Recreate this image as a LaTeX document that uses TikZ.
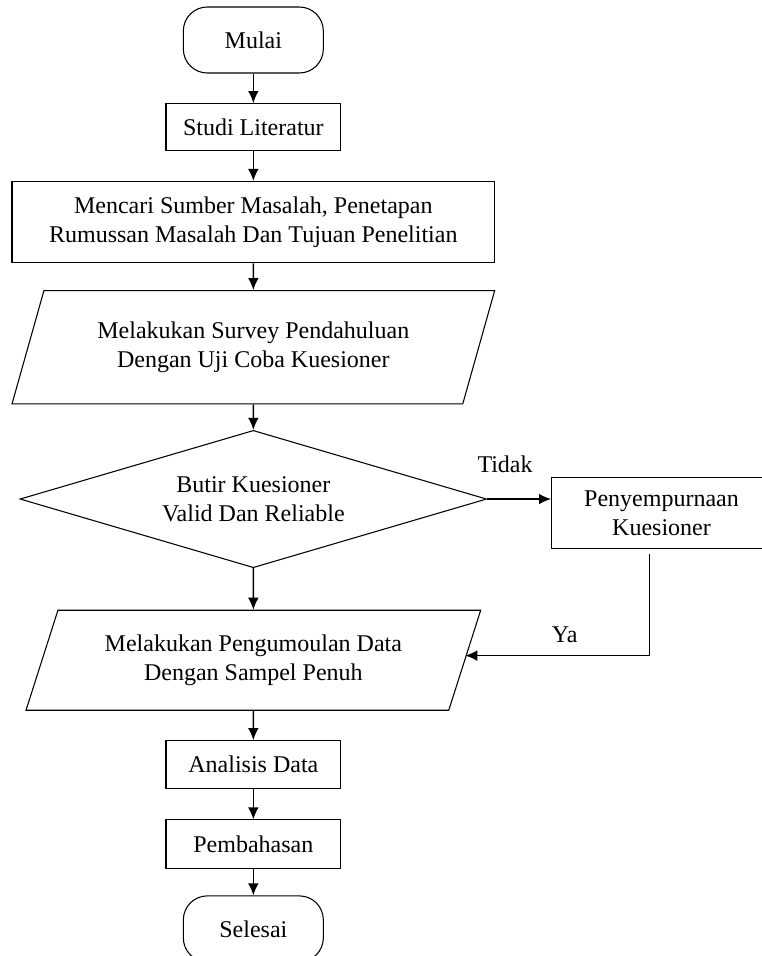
\documentclass[tikz,border=0pt]{standalone}
\usepackage{fontspec}
\setmainfont{Liberation Serif}
\usetikzlibrary{shapes.geometric,arrows.meta}
\tikzstyle{terminal} = [rectangle, draw, rounded corners=18pt,
    minimum width=105pt, minimum height=49.5pt]
\tikzstyle{process} = [rectangle, draw, align=center,
    minimum width=131pt, minimum height=35.5pt]
\tikzstyle{io} = [trapezium, draw, trapezium left angle=62, trapezium right angle=118,
    trapezium stretches body, align=center]
\tikzstyle{decision} = [diamond, draw, align=center, aspect=3.4,
    minimum width=350pt, minimum height=103pt, inner sep=0pt]
\tikzstyle{line} = [draw, line width=1pt, -{Latex[length=9pt,width=8pt]}]

\begin{document}
\begin{tikzpicture}
[node distance = 2.3cm, font=\fontsize{18}{22}\selectfont, line width=0.8pt]
\useasboundingbox (0,0) rectangle (570.75pt,-717pt);
    % Place nodes
    \node [terminal] (start) at (190pt,-30pt) {Mulai};
    \node [process, below of=start] (lit) {Studi Literatur};
    \node [process, below of=lit, yshift=-0.2cm, minimum width=362pt, minimum height=61pt] (problem)
        {Mencari Sumber Masalah, Penetapan\\Rumussan Masalah Dan Tujuan Penelitian};
    \node [io, below of=problem, yshift=-1cm, minimum width=362pt, minimum height=85pt] (survey)
        {Melakukan Survey Pendahuluan\\Dengan Uji Coba Kuesioner};
    \node [decision, below of=survey, yshift=-1.7cm] (valid) {Butir Kuesioner\\Valid Dan Reliable};
    \node [io, below of=valid, yshift=-1.95cm, minimum width=341pt, minimum height=75pt] (collect)
        {Melakukan Pengumoulan Data\\Dengan Sampel Penuh};
    \node [process, below of=collect, yshift=-0.45cm, minimum height=36pt] (analysis) {Analisis Data};
    \node [process, below of=analysis, yshift=0.2cm, minimum height=36.5pt] (discuss) {Pembahasan};
    \node [terminal, below of=discuss, yshift=0.07cm] (finish) {Selesai};

    \node [process, right of=valid, xshift=8.46cm, yshift=-0.37cm, minimum width=165pt, minimum height=53pt] (fix)
        {Penyempurnaan\\Kuesioner};

    % Draw edges
   \path [line] (start) -- (lit);
   \path [line] (lit) -- (problem);
   \path [line] (problem) -- (survey);
   \path [line] (survey) -- (valid);
   \path [line] (valid) -- (collect);
   \path [line] (collect) -- (analysis);
   \path [line] (analysis) -- (discuss);
   \path [line] (discuss) -- (finish);
   \path [line] (valid.east) -- node [pos=0.28, above=16pt] {Tidak} (valid.east -| fix.west);
   \path [line, shorten <=4pt] ([xshift=-9pt]fix.south) |- node [pos=0.73, above=6pt] {Ya}
        ([yshift=3.5pt]collect.east);

\end{tikzpicture}
\end{document}
